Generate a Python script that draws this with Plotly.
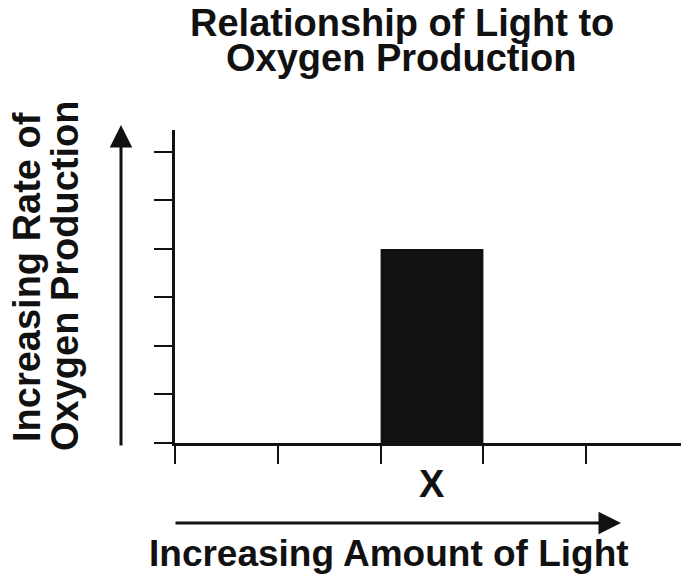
import plotly.graph_objects as go

# ---- data ----
light_bins = [0.5, 1.5, 2.5, 3.5, 4.5]          # centres of light-level intervals
oxygen_rate = [0, 0, 4, 0, 0]                   # rate of oxygen production (tick units)
x_ticks = [0, 1, 2, 3, 4, 5]
y_ticks = [0, 1, 2, 3, 4, 5, 6]
marked_label = "X"
marked_pos = 2.5

title_lines = ["Relationship of Light to", "Oxygen Production"]
y_title_lines = ["Increasing Rate of", "Oxygen Production"]
x_title = "Increasing Amount of Light"

# ---- layout geometry ----
# The page body adds an 8px offset, so screen targets are shifted by OFF.
OFF = 8
W, H = 689, 586
L = 175 - OFF
T = 130 - OFF
R = OFF
B = H - (443 - OFF)
PW, PH = W - L - R, H - T - B


def px(s):
    return (s - OFF - L) / PW


def py(s):
    return (H - B - (s - OFF)) / PH


FONT = "Liberation Sans"
INK = "#111111"

fig = go.Figure()
fig.add_trace(go.Bar(
    x=light_bins, y=oxygen_rate, width=1,
    marker=dict(color=INK, line=dict(width=0)),
    hoverinfo="skip",
))

axis_common = dict(
    showline=True, linecolor=INK, linewidth=2.5,
    ticks="outside", ticklen=18, tickwidth=1.5, tickcolor=INK,
    showticklabels=False, showgrid=False, zeroline=False, fixedrange=True,
)
fig.update_xaxes(range=[0, 5], tickvals=x_ticks, **axis_common)
fig.update_yaxes(range=[0, 6.45], tickvals=y_ticks, **axis_common)

ann = []
tfont = dict(family=FONT, size=38, color=INK, weight="bold")
ann.append(dict(text=title_lines[0], xref="paper", yref="paper", x=px(402), y=py(23),
                xanchor="center", yanchor="middle", showarrow=False, font=tfont))
ann.append(dict(text=title_lines[1], xref="paper", yref="paper", x=px(401), y=py(58),
                xanchor="center", yanchor="middle", showarrow=False, font=tfont))
ann.append(dict(text=y_title_lines[0], xref="paper", yref="paper", x=px(27), y=py(277),
                xanchor="center", yanchor="middle", textangle=-90, showarrow=False, font=tfont))
ann.append(dict(text=y_title_lines[1], xref="paper", yref="paper", x=px(65), y=py(276),
                xanchor="center", yanchor="middle", textangle=-90, showarrow=False, font=tfont))
ann.append(dict(text=x_title, xref="paper", yref="paper", x=px(389), y=py(553),
                xanchor="center", yanchor="middle", showarrow=False,
                font=dict(family=FONT, size=37, color=INK, weight="bold")))
ann.append(dict(text=marked_label, xref="x", yref="paper", x=marked_pos, y=py(484),
                xanchor="center", yanchor="middle", showarrow=False, font=tfont))
# arrows
ann.append(dict(text="", xref="paper", yref="paper", x=px(121), y=py(125),
                ax=0, ay=322, showarrow=True, arrowhead=2, arrowsize=1.5,
                arrowwidth=3, arrowcolor=INK))
ann.append(dict(text="", xref="paper", yref="paper", x=px(621), y=py(523),
                ax=-447, ay=0, showarrow=True, arrowhead=2, arrowsize=1.5,
                arrowwidth=3, arrowcolor=INK))

fig.update_layout(
    width=W, height=H,
    margin=dict(l=L, r=R, t=T, b=B, pad=0),
    plot_bgcolor="white", paper_bgcolor="white",
    showlegend=False, annotations=ann,
    font=dict(family=FONT, color=INK),
)

fig.write_html("out.html")
